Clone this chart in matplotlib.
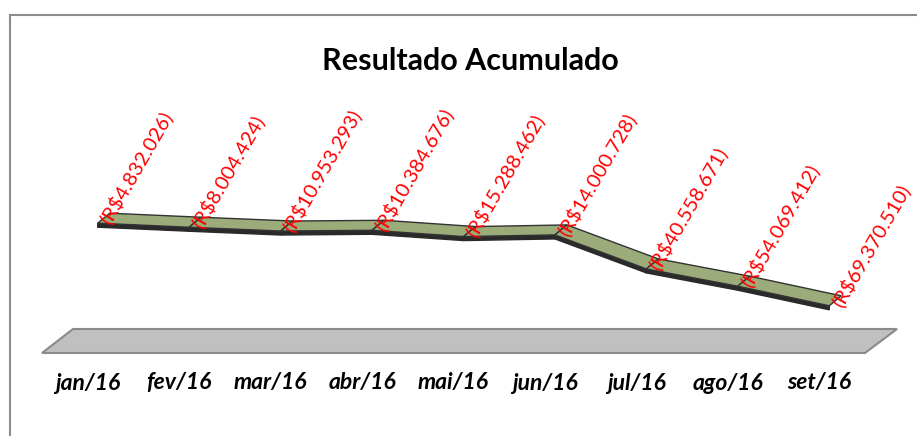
import matplotlib.pyplot as plt
import numpy as np
from matplotlib.patches import Polygon
from matplotlib.lines import Line2D

meses = ["jan/16", "fev/16", "mar/16", "abr/16", "mai/16", "jun/16", "jul/16", "ago/16", "set/16"]
resultado = [-4832026, -8004424, -10953293, -10384676, -15288462, -14000728, -40558671, -54069412, -69370510]

W, H = 917, 436
fig = plt.figure(figsize=(W / 100, H / 100), dpi=100)
plt.rcParams['font.family'] = ['Lato', 'DejaVu Sans']

# axes area in pixels (floor front edge is the bottom)
left, right, top, bottom = 42, 865, 100, 353
ax = fig.add_axes([left / W, 1 - bottom / H, (right - left) / W, (bottom - top) / H])
ax.set_xlim(-0.5, len(meses) - 0.5)
ax.set_ylim(-106.25e6, 91.4e6)
ax.axis('off')

# pixel -> data units
px_x = (len(meses)) / (right - left)
px_y = (91.4e6 + 106.25e6) / (bottom - top)

x = np.arange(len(meses))
y = np.array(resultado, dtype=float)

def shift(dx, dy):
    # dx right, dy down, in pixels
    return x + dx * px_x, y - dy * px_y

fx, fy = shift(10, 0)    # front edge
bx, by = shift(22, -10)  # back edge
dx_, dy_ = shift(10, 4)  # lower front edge

# floor
y0 = ax.get_ylim()[0]
x0, x1 = ax.get_xlim()
floor = Polygon([(x0, y0), (x1, y0), (x1 + 32 * px_x, y0 + 24 * px_y), (x0 + 31 * px_x, y0 + 24 * px_y)],
                closed=True, facecolor='#c0c0c0', edgecolor='#8a8a8a', lw=1.5, clip_on=False)
ax.add_patch(floor)

# ribbon: dark front face then green top face, segment by segment
for i in range(len(x) - 1):
    front = Polygon([(fx[i], fy[i]), (fx[i + 1], fy[i + 1]), (dx_[i + 1], dy_[i + 1]), (dx_[i], dy_[i])],
                    closed=True, facecolor='#2a2a2a', edgecolor='#2a2a2a', lw=1, clip_on=False, zorder=3)
    ax.add_patch(front)
for i in range(len(x) - 1):
    topf = Polygon([(fx[i], fy[i]), (fx[i + 1], fy[i + 1]), (bx[i + 1], by[i + 1]), (bx[i], by[i])],
                   closed=True, facecolor='#9bab7a', edgecolor='#333333', lw=1, clip_on=False, zorder=4)
    ax.add_patch(topf)

# data labels
for xi, yi, v in zip(fx, fy, resultado):
    txt = "(R$" + f"{abs(v):,.0f}".replace(",", ".") + ")"
    ax.annotate(txt, (xi, yi), xytext=(15, -4), textcoords='offset pixels',
                rotation=60, rotation_mode='anchor', ha='left', va='bottom',
                color='red', fontsize=14.5, zorder=5, annotation_clip=False)

# month labels
for xi, m in zip(x, meses):
    ax.text(xi, y0 - 30 * px_y, m, ha='center', va='center',
            fontsize=16.5, fontweight='bold', fontstyle='italic', color='black')

fig.text(0.513, 1 - 61 / H, "Resultado Acumulado", ha='center', va='center',
         fontsize=22, fontweight='bold')

# chart border (top and left visible)
fig.add_artist(Line2D([10 / W, 1], [1 - 15 / H, 1 - 15 / H], color='#8c8c8c', lw=1.5))
fig.add_artist(Line2D([10 / W, 10 / W], [0, 1 - 15 / H], color='#8c8c8c', lw=1.5))

fig.savefig('out.png', dpi=100)
